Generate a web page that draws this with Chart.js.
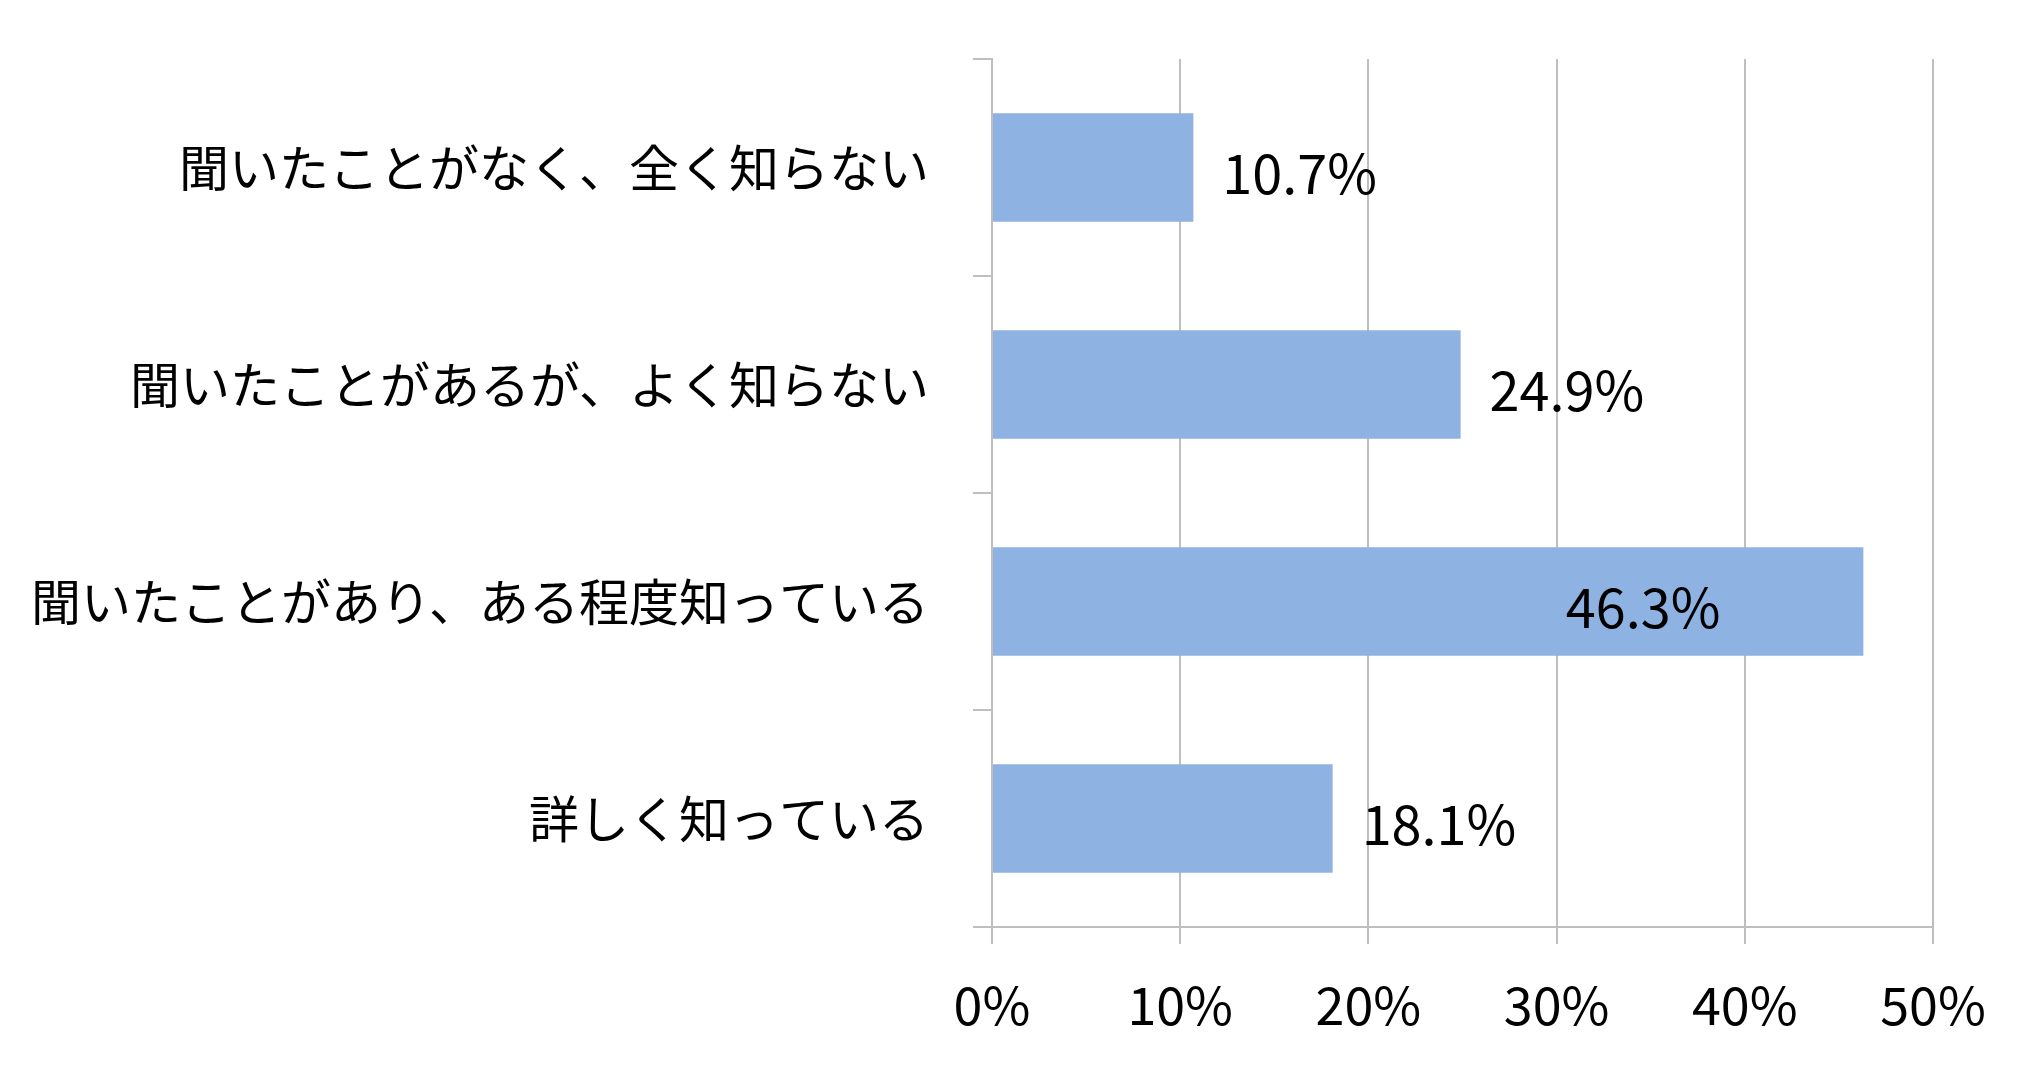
<!DOCTYPE html>
<html>
<head>
<meta charset="utf-8">
<script src="https://cdn.jsdelivr.net/npm/chart.js@4"></script>
<style>
html,body{margin:0;padding:0;background:#fff;}
#wrap{width:2018px;height:1066px;}
</style>
</head>
<body>
<div id="wrap"><canvas id="c" width="2018" height="1066"></canvas></div>
<script>
const categories = [
  "聞いたことがなく、全く知らない",
  "聞いたことがあるが、よく知らない",
  "聞いたことがあり、ある程度知っている",
  "詳しく知っている"
];
const values = [10.7, 24.9, 46.3, 18.1];
const xTicks = [0, 10, 20, 30, 40, 50];

const FONT = "'Noto Sans CJK JP', 'Noto Sans', sans-serif";
const GRID = "#BFBFBF";

const labelPlugin = {
  id: 'valueLabels',
  afterDatasetsDraw(chart) {
    const ctx = chart.ctx;
    const meta = chart.getDatasetMeta(0);
    ctx.save();
    ctx.font = "54px " + FONT;
    ctx.fillStyle = "#000";
    ctx.textBaseline = "middle";
    meta.data.forEach((el, i) => {
      const txt = values[i].toFixed(1) + "%";
      const w = ctx.measureText(txt).width;
      let x = el.x + 29;
      if (x + w > chart.width - 10) {
        ctx.textAlign = "right";
        x = el.x - 143;
      } else {
        ctx.textAlign = "left";
      }
      ctx.fillText(txt, x, el.y + 6);
    });
    ctx.restore();
  }
};

new Chart(document.getElementById('c'), {
  type: 'bar',
  data: {
    labels: categories,
    datasets: [{
      data: values,
      backgroundColor: "#8EB2E1",
      borderWidth: 0,
      barPercentage: 0.5,
      categoryPercentage: 1.0
    }]
  },
  options: {
    indexAxis: 'y',
    responsive: false,
    animation: false,
    devicePixelRatio: 1,
    layout: { padding: { top: 59, right: 85, left: 0, bottom: 0 } },
    plugins: { legend: { display: false }, tooltip: { enabled: false } },
    scales: {
      x: {
        min: 0, max: 50,
        afterBuildTicks(axis) { axis.ticks = xTicks.map(v => ({ value: v })); },
        afterFit(axis) { axis.height = 139; axis.paddingLeft = 0; axis.paddingRight = 0; },
        grid: { color: GRID, lineWidth: 2, tickLength: 17, drawTicks: true },
        border: { color: GRID, width: 2 },
        ticks: {
          color: "#000",
          padding: 30,
          font: { family: FONT, size: 52 },
          callback: (v) => v + "%"
        }
      },
      y: {
        afterFit(axis) { axis.width = 992; axis.paddingTop = 0; axis.paddingBottom = 0; },
        grid: { color: GRID, lineWidth: 2, tickLength: 19, drawOnChartArea: false, drawTicks: true, offset: true },
        border: { color: GRID, width: 2 },
        ticks: {
          color: "#000",
          padding: 44,
          font: { family: FONT, size: 50 }
        }
      }
    }
  },
  plugins: [labelPlugin]
});
</script>
</body>
</html>
